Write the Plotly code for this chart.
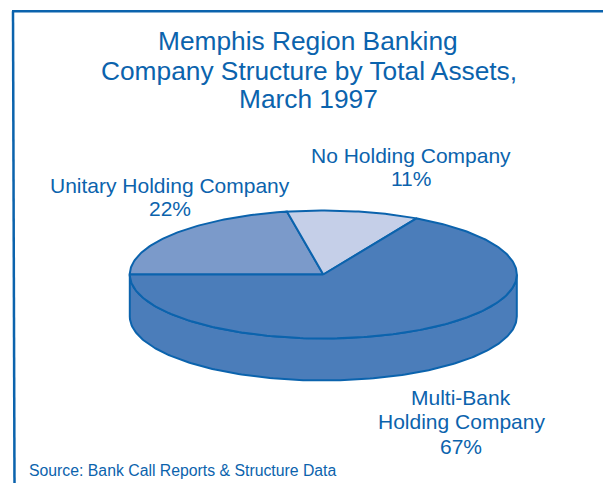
import numpy as np
import plotly.graph_objects as go

categories = ["Unitary Holding Company", "No Holding Company", "Multi-Bank Holding Company"]
shares = [22, 11, 67]
slice_colors = ["#7b9aca", "#c5cfe8", "#4b7dba"]
title_lines = ["Memphis Region Banking", "Company Structure by Total Assets,", "March 1997"]
source_note = "Source: Bank Call Reports & Structure Data"

INK = "#0b63ad"
FONT = "Liberation Sans, Arial, sans-serif"
W, H = 603, 483
cx, cy, rx, ry, depth = 323.3, 274.5, 193.5, 64, 42


def ell(t, dy=0):
    return cx + rx * np.cos(t), cy - ry * np.sin(t) + dy


fig = go.Figure()

# Side wall of the disc (front half, extruded downward)
t_front = np.radians(np.linspace(180, 360, 181))
x_top, y_top = ell(t_front)
x_bot, y_bot = ell(t_front[::-1], depth)
fig.add_trace(go.Scatter(
    x=np.r_[x_top, x_bot, x_top[0]], y=np.r_[y_top, y_bot, y_top[0]],
    mode="lines", fill="toself", fillcolor=slice_colors[2],
    line=dict(color=INK, width=2), hoverinfo="skip", showlegend=False))

# Top face: slices run clockwise from the left-hand edge
start = 180.0
for name, share, color in zip(categories, shares, slice_colors):
    end = start - share / sum(shares) * 360
    t = np.radians(np.linspace(start, end, max(int(abs(end - start)), 2) + 1))
    ex, ey = ell(t)
    fig.add_trace(go.Scatter(
        x=np.r_[cx, ex, cx], y=np.r_[cy, ey, cy],
        mode="lines", fill="toself", fillcolor=color,
        line=dict(color=INK, width=2), name=name, hoverinfo="name", showlegend=False))
    start = end

text_lines = [
    (308, 41, title_lines[0], 26.3),
    (308.5, 71, title_lines[1], 26.3),
    (308.5, 99, title_lines[2], 26.3),
    (410.5, 155, categories[1], 21),
    (410.5, 178, f"{shares[1]}%", 21),
    (170, 185, categories[0], 21),
    (170, 208, f"{shares[0]}%", 21),
    (461, 397, "Multi-Bank", 21),
    (461, 421, "Holding Company", 21),
    (461, 446, f"{shares[2]}%", 21),
]
for x, y, s, size in text_lines:
    fig.add_annotation(x=x, y=y, xref="x", yref="y", text=s, showarrow=False,
                       font=dict(family=FONT, size=size, color=INK),
                       xanchor="center", yanchor="middle")
fig.add_annotation(x=27, y=470, xref="x", yref="y", text=source_note, showarrow=False,
                   font=dict(family=FONT, size=15.8, color=INK), xanchor="left", yanchor="middle")

# Frame: open on the right and at the bottom
fig.add_shape(type="line", x0=13, x1=14.5, y0=11.3, y1=H, xref="x", yref="y", line=dict(color=INK, width=2.5))
fig.add_shape(type="line", x0=12, x1=W, y0=11.3, y1=11.3, xref="x", yref="y", line=dict(color=INK, width=2.5))

fig.update_layout(
    width=W, height=H, margin=dict(l=0, r=0, t=0, b=0),
    paper_bgcolor="white", plot_bgcolor="white",
    xaxis=dict(range=[0, W], visible=False, fixedrange=True),
    yaxis=dict(range=[H, 0], visible=False, fixedrange=True),
)
fig.write_html("out.html", config=dict(displayModeBar=False),
               post_script="document.body.style.margin='0';document.body.style.overflow='hidden';")
